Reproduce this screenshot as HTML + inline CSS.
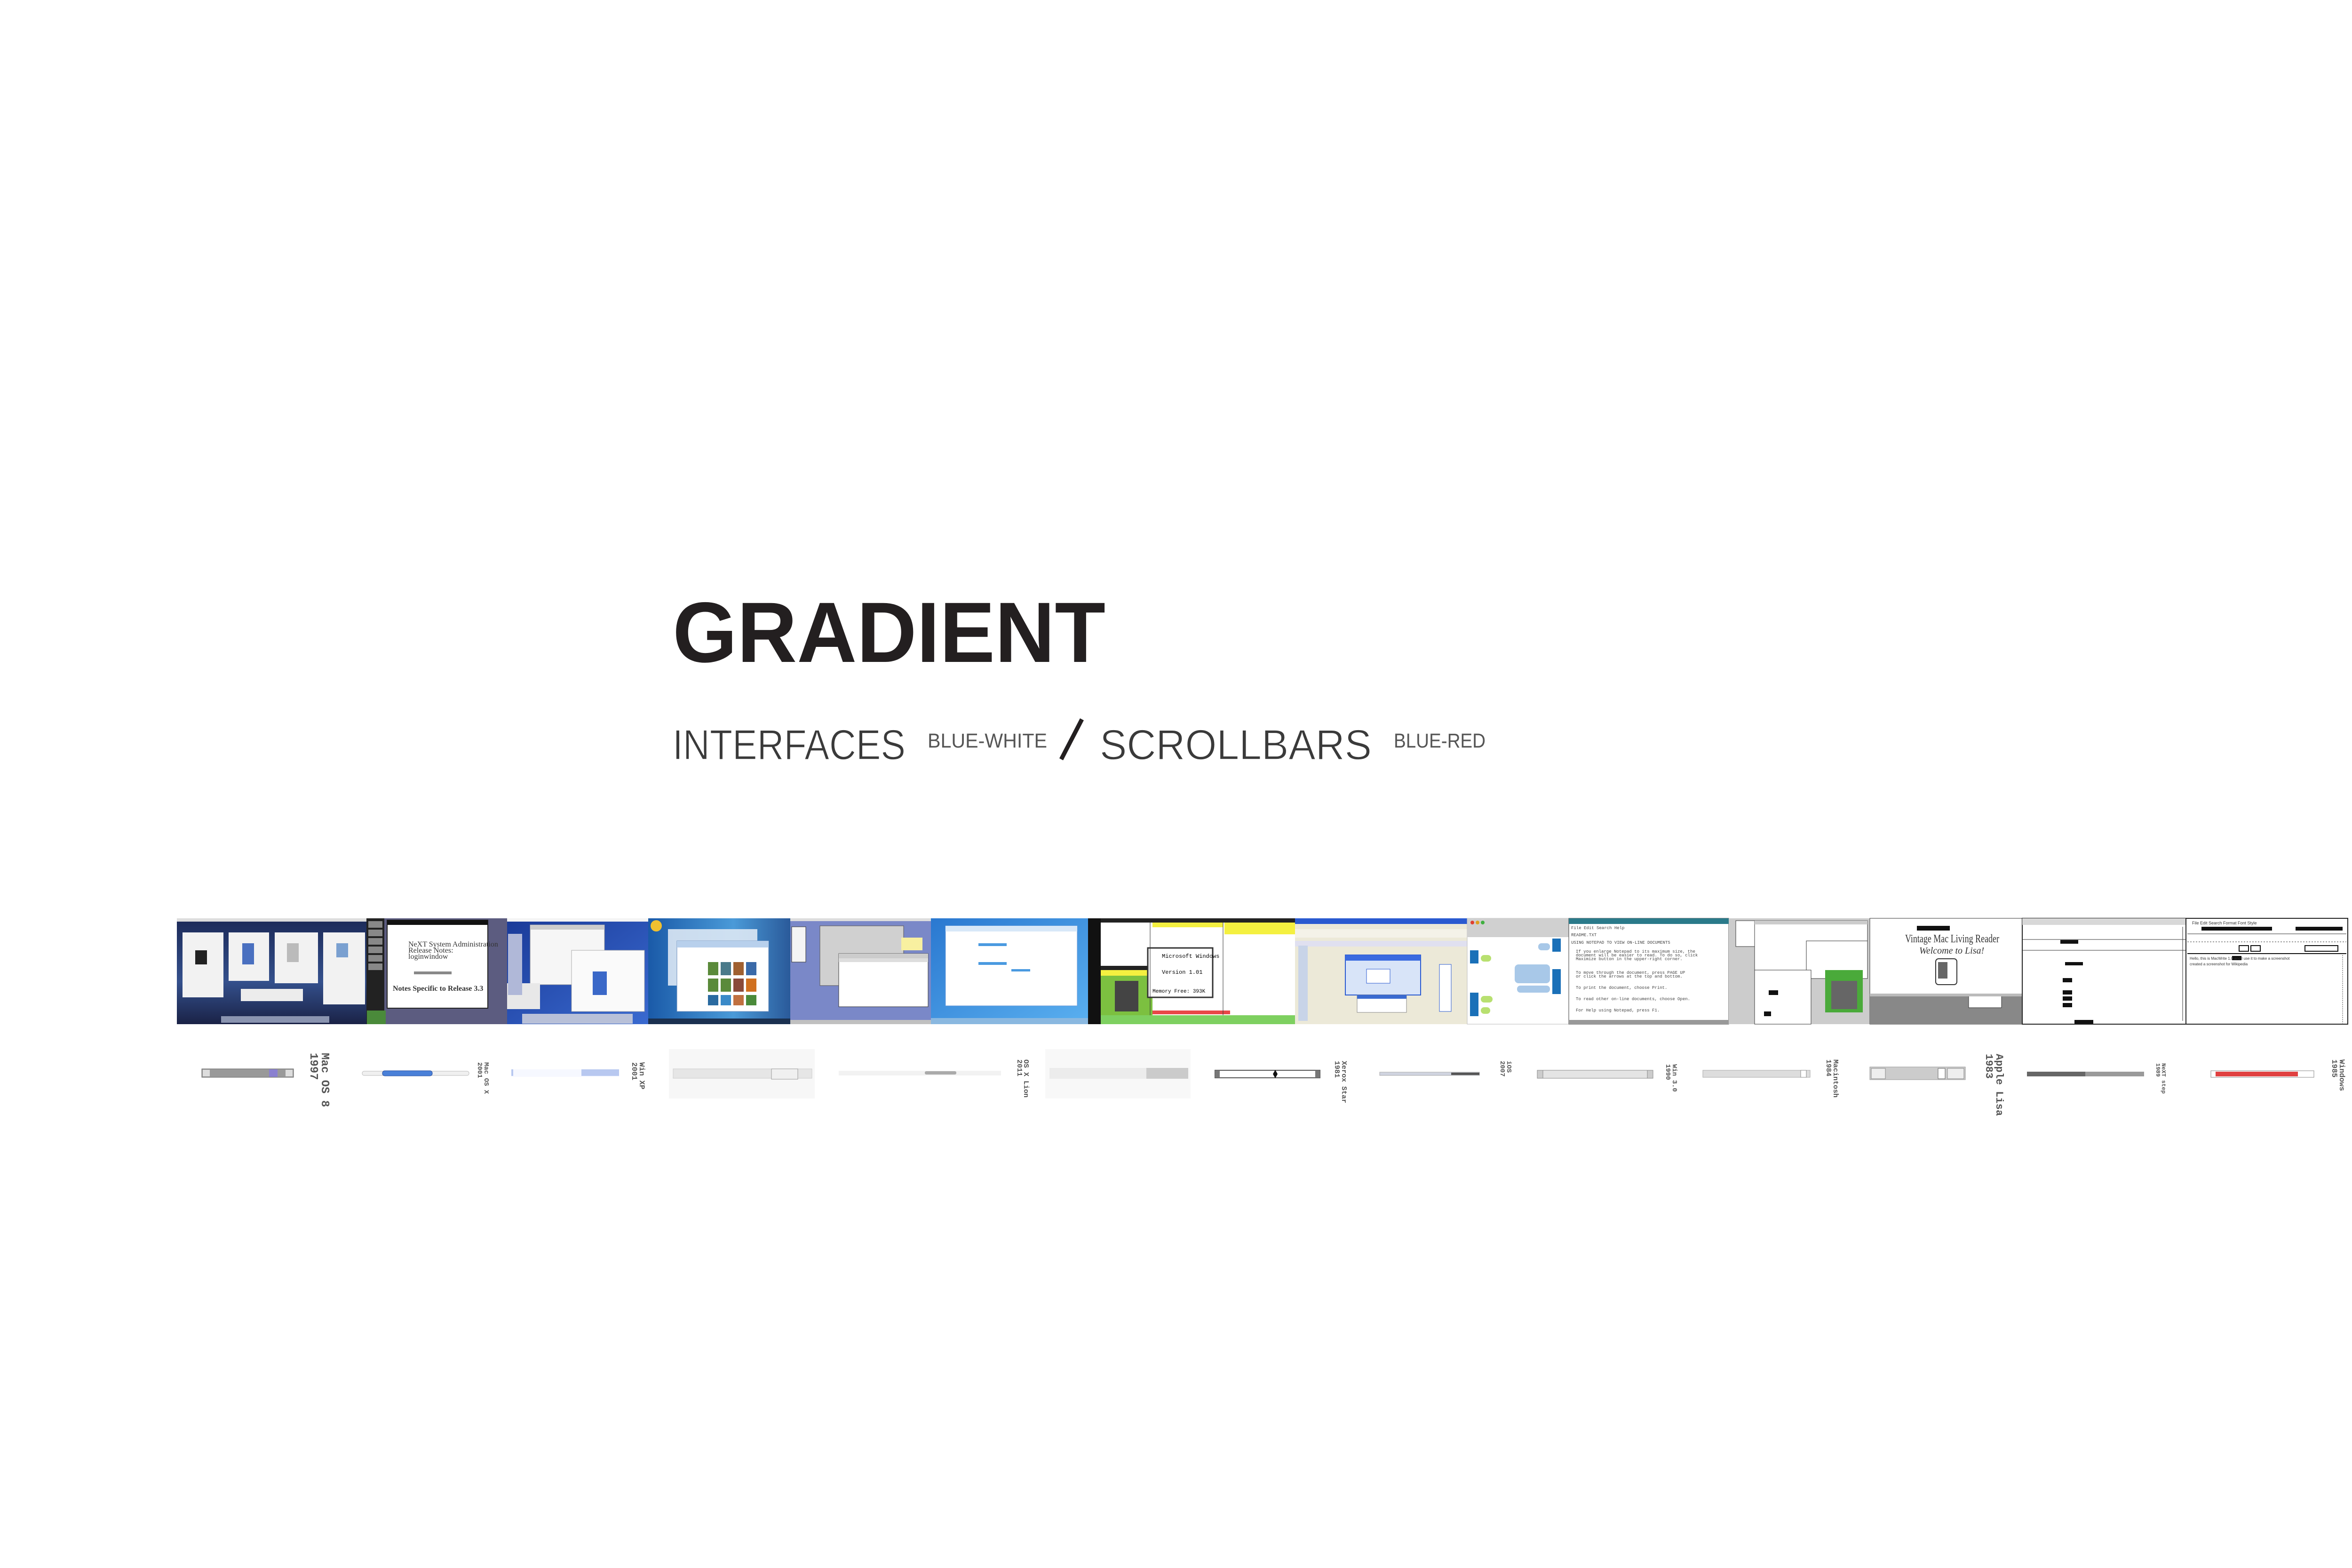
<!DOCTYPE html>
<html><head><meta charset="utf-8"><style>
html,body{margin:0;padding:0;background:#fff;}
svg{display:block;}
</style></head><body>
<svg width="5333" height="3333" viewBox="0 0 5333 3333" xmlns="http://www.w3.org/2000/svg" font-family="Liberation Sans, sans-serif">
<defs>
<linearGradient id="g1" x1="0" y1="0" x2="0" y2="1"><stop offset="0" stop-color="#1c2a58"/><stop offset="0.6" stop-color="#34508c"/><stop offset="1" stop-color="#1a2246"/></linearGradient>
<linearGradient id="g3" x1="0" y1="0" x2="1" y2="1"><stop offset="0" stop-color="#1a3a98"/><stop offset="1" stop-color="#3a6ad0"/></linearGradient>
<linearGradient id="g4" x1="0" y1="0" x2="1" y2="0"><stop offset="0" stop-color="#1a5aa8"/><stop offset="0.6" stop-color="#4a9ad8"/><stop offset="1" stop-color="#2a5a9a"/></linearGradient>
<linearGradient id="g6" x1="0" y1="0" x2="1" y2="1"><stop offset="0" stop-color="#2a78d0"/><stop offset="1" stop-color="#5ab0f0"/></linearGradient>
</defs>

<!-- Title -->
<text x="1430" y="1407" font-size="182" font-weight="bold" fill="#231f20" textLength="920" lengthAdjust="spacingAndGlyphs">GRADIENT</text>
<text x="1430" y="1614" font-size="90" fill="#3a3a3a" textLength="495" lengthAdjust="spacingAndGlyphs" font-weight="normal" stroke="#fff" stroke-width="1.5">INTERFACES</text>
<text x="1972" y="1589" font-size="43" fill="#555" textLength="254" lengthAdjust="spacingAndGlyphs">BLUE-WHITE</text>
<line x1="2300" y1="1529" x2="2256" y2="1614" stroke="#231f20" stroke-width="9"/>
<text x="2338" y="1614" font-size="90" fill="#3a3a3a" textLength="578" lengthAdjust="spacingAndGlyphs" stroke="#fff" stroke-width="1.5">SCROLLBARS</text>
<text x="2963" y="1589" font-size="43" fill="#555" textLength="195" lengthAdjust="spacingAndGlyphs">BLUE-RED</text>

<!-- Screenshot strip -->
<!-- 1 Mac OS X Lion -->
<rect x="376" y="1952" width="403" height="225" fill="url(#g1)"/>
<rect x="376" y="1952" width="403" height="7" fill="#ddd"/>
<rect x="388" y="1982" width="87" height="138" fill="#f2f2f2"/>
<rect x="486" y="1982" width="86" height="103" fill="#f2f2f2"/>
<rect x="584" y="1982" width="92" height="108" fill="#f2f2f2"/>
<rect x="687" y="1982" width="89" height="153" fill="#f2f2f2"/>
<rect x="512" y="2102" width="132" height="26" fill="#ececec"/>
<rect x="415" y="2020" width="25" height="30" fill="#222"/>
<rect x="515" y="2005" width="25" height="45" fill="#4a70c0"/>
<rect x="610" y="2005" width="25" height="40" fill="#bbb"/>
<rect x="715" y="2005" width="25" height="30" fill="#7aa0d0"/>
<rect x="470" y="2160" width="230" height="14" fill="#8a94b0"/>

<!-- 2 NeXT -->
<rect x="779" y="1952" width="299" height="225" fill="#5c5c80"/>
<rect x="779" y="1952" width="38" height="225" fill="#222"/>
<g fill="#888"><rect x="783" y="1958" width="30" height="14"/><rect x="783" y="1976" width="30" height="14"/><rect x="783" y="1994" width="30" height="14"/><rect x="783" y="2012" width="30" height="14"/><rect x="783" y="2030" width="30" height="14"/><rect x="783" y="2048" width="30" height="14"/></g>
<rect x="823" y="1956" width="214" height="187" fill="#fff" stroke="#222" stroke-width="2"/>
<rect x="823" y="1956" width="214" height="10" fill="#111"/>
<g fill="#333" font-size="16" font-family="Liberation Serif, serif"><text x="868" y="2012">NeXT System Administration</text><text x="868" y="2025">Release Notes:</text><text x="868" y="2038">loginwindow</text><text x="835" y="2106" font-weight="bold">Notes Specific to Release 3.3</text></g>
<rect x="880" y="2065" width="80" height="6" fill="#888"/>
<rect x="780" y="2148" width="40" height="29" fill="#4a8a3a"/>

<!-- 3 Mac OS X -->
<rect x="1078" y="1952" width="300" height="225" fill="url(#g3)"/>
<rect x="1078" y="1952" width="300" height="7" fill="#f4f4f4"/>
<rect x="1127" y="1966" width="158" height="127" fill="#f6f6f6" stroke="#999"/>
<rect x="1127" y="1966" width="158" height="10" fill="#ccc"/>
<rect x="1215" y="2020" width="155" height="130" fill="#fafafa" stroke="#aaa"/>
<rect x="1078" y="2090" width="70" height="55" fill="#e8e8e8"/>
<rect x="1080" y="1985" width="30" height="130" fill="#b0b8d8"/>
<rect x="1260" y="2065" width="30" height="50" fill="#3a68c8"/>
<rect x="1110" y="2155" width="235" height="21" fill="#b8c0d8"/>

<!-- 4 Windows 7 -->
<rect x="1378" y="1952" width="302" height="225" fill="url(#g4)"/>
<rect x="1420" y="1975" width="190" height="120" fill="#dde8f4" opacity="0.9"/>
<rect x="1439" y="2000" width="195" height="150" fill="#fff" stroke="#6a8ab8"/>
<rect x="1439" y="2000" width="195" height="14" fill="#b8d0ec"/>
<g fill="#5a8a3a"><rect x="1505" y="2045" width="22" height="28"/><rect x="1532" y="2045" width="22" height="28" fill="#4a7a8a"/><rect x="1559" y="2045" width="22" height="28" fill="#a06030"/><rect x="1586" y="2045" width="22" height="28" fill="#3a6aa8"/><rect x="1505" y="2080" width="22" height="28"/><rect x="1532" y="2080" width="22" height="28"/><rect x="1559" y="2080" width="22" height="28" fill="#8a4a3a"/><rect x="1586" y="2080" width="22" height="28" fill="#d07020"/><rect x="1505" y="2115" width="22" height="22" fill="#2a6aa0"/><rect x="1532" y="2115" width="22" height="22" fill="#3a8ac8"/><rect x="1559" y="2115" width="22" height="22" fill="#c07040"/><rect x="1586" y="2115" width="22" height="22" fill="#4a8a3a"/></g>
<rect x="1378" y="2165" width="302" height="12" fill="#1a3050"/>
<circle cx="1395" cy="1968" r="12" fill="#f0c030"/>

<!-- 5 Mac OS 8 -->
<rect x="1680" y="1952" width="299" height="225" fill="#7a88c8"/>
<rect x="1680" y="1952" width="299" height="6" fill="#ddd"/>
<rect x="1683" y="1970" width="30" height="75" fill="#f4f4f4" stroke="#333"/>
<rect x="1743" y="1968" width="178" height="127" fill="#d0d0d0" stroke="#555"/>
<rect x="1916" y="1993" width="45" height="27" fill="#f8f0a0"/>
<rect x="1783" y="2027" width="190" height="113" fill="#fff" stroke="#333"/>
<rect x="1783" y="2027" width="190" height="10" fill="#ccc"/>
<rect x="1783" y="2037" width="190" height="8" fill="#ddd"/>
<rect x="1680" y="2168" width="299" height="9" fill="#c0c0c0"/>

<!-- 6 Windows 8 -->
<rect x="1979" y="1952" width="334" height="225" fill="url(#g6)"/>
<rect x="2010" y="1968" width="280" height="170" fill="#fff" stroke="#6a9ad8"/>
<rect x="2010" y="1968" width="280" height="12" fill="#d8e8f8"/>
<rect x="2080" y="2005" width="60" height="6" fill="#4a9ae0"/>
<rect x="2080" y="2045" width="60" height="6" fill="#4a9ae0"/>
<rect x="2150" y="2060" width="40" height="5" fill="#4a9ae0"/>
<rect x="1979" y="2164" width="334" height="13" fill="#8ab8e0"/>
<rect x="2313" y="1952" width="27" height="225" fill="#111"/>

<!-- 7 Windows 1.0 -->
<rect x="2340" y="1952" width="413" height="225" fill="#fff"/>
<rect x="2340" y="1952" width="413" height="9" fill="#222"/>
<rect x="2450" y="1961" width="150" height="10" fill="#f4f040"/>
<rect x="2603" y="1961" width="150" height="25" fill="#f4f040"/>
<rect x="2340" y="2053" width="110" height="9" fill="#222"/>
<rect x="2340" y="2062" width="110" height="12" fill="#f4f040"/>
<rect x="2340" y="2074" width="110" height="84" fill="#7cc040"/>
<rect x="2370" y="2085" width="50" height="65" fill="#444"/>
<rect x="2440" y="2015" width="138" height="105" fill="#fff" stroke="#333" stroke-width="3"/>
<text x="2470" y="2036" font-size="12" font-family="Liberation Mono, monospace">Microsoft Windows</text>
<text x="2470" y="2070" font-size="12" font-family="Liberation Mono, monospace">Version 1.01</text>
<text x="2450" y="2110" font-size="11" font-family="Liberation Mono, monospace">Memory Free: 393K</text>
<rect x="2340" y="2158" width="413" height="19" fill="#7ed060"/>
<rect x="2450" y="2148" width="165" height="8" fill="#e84848"/>
<line x1="2445" y1="1961" x2="2445" y2="2158" stroke="#333"/>
<line x1="2600" y1="1961" x2="2600" y2="2158" stroke="#333"/>

<!-- 8 XP StyleBuilder -->
<rect x="2753" y="1952" width="366" height="225" fill="#ece9d8"/>
<rect x="2753" y="1952" width="366" height="12" fill="#2a5ad0"/>
<rect x="2753" y="1975" width="366" height="18" fill="#f4f2e8"/>
<rect x="2753" y="2000" width="366" height="12" fill="#e0e0f0"/>
<rect x="2860" y="2030" width="160" height="85" fill="#d8e4f8" stroke="#2a5ad0" stroke-width="2"/>
<rect x="2860" y="2030" width="160" height="12" fill="#3a6ae0"/>
<rect x="2905" y="2060" width="50" height="30" fill="#fff" stroke="#2a5ad0"/>
<rect x="2885" y="2115" width="105" height="37" fill="#fff" stroke="#888"/>
<rect x="2885" y="2115" width="105" height="8" fill="#3a6ad0"/>
<rect x="3060" y="2050" width="25" height="100" fill="#fff" stroke="#2a5ad0"/>
<rect x="2760" y="2010" width="20" height="160" fill="#c8d4e8"/>

<!-- 9 iChat -->
<rect x="3119" y="1952" width="216" height="225" fill="#fff" stroke="#bbb"/>
<rect x="3119" y="1952" width="216" height="40" fill="#d0d0d0"/>
<circle cx="3130" cy="1961" r="4" fill="#e04030"/><circle cx="3141" cy="1961" r="4" fill="#e0a020"/><circle cx="3152" cy="1961" r="4" fill="#40b040"/>
<rect x="3270" y="2005" width="25" height="15" rx="7" fill="#a8c8e8"/>
<rect x="3300" y="1995" width="18" height="28" fill="#1a70b8"/>
<rect x="3125" y="2020" width="18" height="28" fill="#1a70b8"/>
<rect x="3148" y="2030" width="22" height="14" rx="7" fill="#b8e070"/>
<rect x="3220" y="2050" width="75" height="40" rx="8" fill="#a8c8e8"/>
<rect x="3225" y="2095" width="70" height="15" rx="7" fill="#a8c8e8"/>
<rect x="3300" y="2060" width="18" height="28" fill="#1a70b8"/>
<rect x="3300" y="2085" width="18" height="28" fill="#1a70b8"/>
<rect x="3125" y="2110" width="18" height="25" fill="#1a70b8"/>
<rect x="3148" y="2117" width="25" height="14" rx="7" fill="#b8e070"/>
<rect x="3125" y="2135" width="18" height="25" fill="#1a70b8"/>
<rect x="3148" y="2141" width="20" height="14" rx="7" fill="#b8e070"/>

<!-- 10 Notepad -->
<rect x="3335" y="1952" width="340" height="225" fill="#fff" stroke="#333"/>
<rect x="3335" y="1952" width="340" height="12" fill="#2a7a8a"/>
<g fill="#444" font-size="9" font-family="Liberation Mono, monospace"><text x="3340" y="1975">File  Edit  Search  Help</text><text x="3340" y="1990">README.TXT</text><text x="3340" y="2006">USING NOTEPAD TO VIEW ON-LINE DOCUMENTS</text><text x="3350" y="2025">If you enlarge Notepad to its maximum size, the</text><text x="3350" y="2033">document will be easier to read. To do so, click</text><text x="3350" y="2041">Maximize button in the upper-right corner.</text><text x="3350" y="2070">To move through the document, press PAGE UP</text><text x="3350" y="2078">or click the arrows at the top and bottom.</text><text x="3350" y="2102">To print the document, choose Print.</text><text x="3350" y="2126">To read other on-line documents, choose Open.</text><text x="3350" y="2150">For Help using Notepad, press F1.</text></g>
<rect x="3335" y="2168" width="340" height="9" fill="#999"/>

<!-- 11 Windows 3.1 -->
<rect x="3675" y="1952" width="300" height="225" fill="#c0c0c0"/>
<rect x="3675" y="1952" width="300" height="225" fill="#fff" opacity="0.2"/>
<rect x="3690" y="1957" width="40" height="55" fill="#fff" stroke="#333"/>
<rect x="3730" y="1957" width="240" height="110" fill="#fff" stroke="#333"/>
<rect x="3730" y="1957" width="240" height="8" fill="#ccc"/>
<rect x="3840" y="2000" width="130" height="80" fill="#fff" stroke="#333"/>
<rect x="3730" y="2062" width="120" height="115" fill="#fff" stroke="#333"/>
<rect x="3880" y="2062" width="80" height="90" fill="#4aaa3a"/>
<rect x="3893" y="2085" width="55" height="60" fill="#666"/>
<rect x="3760" y="2105" width="20" height="10" fill="#111"/>
<rect x="3750" y="2150" width="15" height="10" fill="#111"/>

<!-- 12 Lisa -->
<rect x="3975" y="1952" width="324" height="225" fill="#fff" stroke="#333"/>
<rect x="3975" y="2117" width="324" height="60" fill="#888"/>
<rect x="4075" y="1968" width="70" height="10" fill="#111"/>
<text x="4050" y="2003" font-size="24" font-family="Liberation Serif, serif" fill="#333" textLength="200" lengthAdjust="spacingAndGlyphs">Vintage Mac Living Reader</text>
<text x="4080" y="2027" font-size="20" font-style="italic" font-family="Liberation Serif, serif" fill="#333">Welcome to Lisa!</text>
<rect x="4115" y="2038" width="45" height="55" rx="6" fill="#fff" stroke="#333" stroke-width="2"/>
<rect x="4120" y="2045" width="20" height="35" fill="#666"/>
<rect x="4185" y="2117" width="70" height="25" fill="#fff" stroke="#333"/>
<rect x="3975" y="2112" width="324" height="6" fill="#bbb"/>

<!-- 13 NeXT text property -->
<rect x="4299" y="1952" width="348" height="225" fill="#fff" stroke="#222" stroke-width="2"/>
<rect x="4299" y="1952" width="348" height="14" fill="#d8d8d8"/>
<line x1="4299" y1="1997" x2="4647" y2="1997" stroke="#333"/>
<line x1="4299" y1="2020" x2="4647" y2="2020" stroke="#333"/>
<rect x="4380" y="1998" width="38" height="8" fill="#111"/>
<rect x="4390" y="2045" width="38" height="7" fill="#111"/>
<rect x="4385" y="2079" width="20" height="9" fill="#111"/>
<rect x="4385" y="2105" width="20" height="9" fill="#111"/>
<rect x="4385" y="2118" width="20" height="9" fill="#111"/>
<rect x="4385" y="2132" width="20" height="9" fill="#111"/>
<rect x="4410" y="2168" width="40" height="8" fill="#111"/>
<line x1="4640" y1="1970" x2="4640" y2="2170" stroke="#333"/>

<!-- 14 MacWrite -->
<rect x="4647" y="1952" width="344" height="225" fill="#fff" stroke="#222" stroke-width="2"/>
<g fill="#333" font-size="9"><text x="4660" y="1965">File  Edit  Search  Format  Font  Style</text></g>
<rect x="4680" y="1970" width="150" height="8" fill="#111"/>
<rect x="4880" y="1970" width="100" height="8" fill="#111"/>
<line x1="4650" y1="1985" x2="4988" y2="1985" stroke="#333"/>
<line x1="4650" y1="2002" x2="4988" y2="2002" stroke="#333" stroke-dasharray="3 3"/>
<rect x="4760" y="2010" width="20" height="12" fill="#fff" stroke="#111" stroke-width="2"/>
<rect x="4785" y="2010" width="20" height="12" fill="#fff" stroke="#111" stroke-width="2"/>
<rect x="4900" y="2010" width="70" height="12" fill="#fff" stroke="#111" stroke-width="2"/>
<line x1="4650" y1="2027" x2="4988" y2="2027" stroke="#111" stroke-width="2"/>
<rect x="4745" y="2032" width="20" height="9" fill="#111"/>
<text x="4655" y="2040" font-size="8" fill="#333">Hello, this is MacWrite 1.0 and I use it to make a screenshot</text>
<text x="4655" y="2052" font-size="8" fill="#333">created a screenshot for Wikipedia</text>
<line x1="4980" y1="2030" x2="4980" y2="2175" stroke="#333" stroke-dasharray="2 2"/>

<!-- Scrollbars -->
<!-- Mac OS 8 -->
<rect x="429" y="2272" width="195" height="18" fill="#999" stroke="#666"/>
<rect x="431" y="2274" width="15" height="14" fill="#ddd"/><rect x="607" y="2274" width="15" height="14" fill="#ddd"/>
<rect x="572" y="2273" width="18" height="16" fill="#8a80d0"/>
<!-- Mac OS X -->
<rect x="770" y="2277" width="227" height="9" rx="4" fill="#f0f0f0" stroke="#bbb"/>
<rect x="813" y="2276" width="106" height="11" rx="5" fill="#4a80d8" stroke="#2a50a0"/>
<!-- Win XP -->
<rect x="1087" y="2273" width="229" height="16" fill="#f6f8ff"/>
<rect x="1236" y="2273" width="80" height="14" fill="#b8c8f0"/>
<rect x="1087" y="2273" width="4" height="14" fill="#b8c8f0"/>
<!-- OS X Lion box -->
<rect x="1422" y="2230" width="310" height="105" fill="#f7f7f7"/>
<rect x="1431" y="2272" width="295" height="20" fill="#e6e6e6" stroke="#ccc"/>
<rect x="1640" y="2272" width="56" height="22" fill="#f0f0f0" stroke="#999"/>
<!-- Lion bar 2 -->
<rect x="1783" y="2276" width="345" height="10" fill="#f2f2f2"/>
<rect x="1966" y="2277" width="67" height="7" rx="3" fill="#aaa"/>
<!-- big one -->
<rect x="2222" y="2230" width="309" height="105" fill="#f8f8f8"/>
<rect x="2231" y="2270" width="206" height="23" fill="#ececec"/>
<rect x="2437" y="2270" width="89" height="23" fill="#cbcbcb"/>
<!-- Xerox Star -->
<rect x="2583" y="2275" width="223" height="16" fill="#fff" stroke="#555" stroke-width="2"/>
<rect x="2583" y="2275" width="10" height="16" fill="#777"/><rect x="2796" y="2275" width="10" height="16" fill="#777"/>
<polygon points="2711,2274 2716,2283 2711,2292 2706,2283" fill="#111"/>
<!-- iOS -->
<rect x="2933" y="2279" width="212" height="7" fill="#d0d4e0" stroke="#aaa"/>
<rect x="3085" y="2280" width="60" height="5" fill="#555"/>
<!-- Win 3.0 -->
<rect x="3268" y="2275" width="246" height="17" fill="#e4e4e4" stroke="#888"/>
<rect x="3268" y="2275" width="12" height="17" fill="#ccc" stroke="#888"/><rect x="3502" y="2275" width="12" height="17" fill="#ccc" stroke="#888"/>
<!-- Macintosh -->
<rect x="3620" y="2275" width="228" height="15" fill="#ddd" stroke="#aaa"/>
<rect x="3828" y="2275" width="12" height="15" fill="#fff" stroke="#888"/>
<!-- Lisa -->
<rect x="3975" y="2268" width="203" height="27" fill="#ccc" stroke="#999"/>
<rect x="3978" y="2271" width="30" height="22" fill="#eee" stroke="#888"/>
<rect x="4140" y="2271" width="35" height="22" fill="#eee" stroke="#888"/>
<rect x="4120" y="2271" width="15" height="22" fill="#fff" stroke="#666"/>
<!-- NeXTstep -->
<rect x="4309" y="2278" width="249" height="10" fill="#9a9a9a"/>
<rect x="4309" y="2278" width="124" height="10" fill="#666"/>
<!-- Windows 1985 -->
<rect x="4700" y="2276" width="219" height="14" fill="#fff" stroke="#888"/>
<rect x="4710" y="2278" width="175" height="10" fill="#e04040"/>

<!-- Rotated labels -->
<g fill="#555" font-weight="bold" font-family="Liberation Mono, monospace">
<g transform="translate(684,2238) rotate(90)"><text font-size="24">Mac OS 8</text><text y="24" font-size="24">1997</text></g>
<g transform="translate(1030,2258) rotate(90)"><text font-size="14">Mac OS X</text><text y="14" font-size="14">2001</text></g>
<g transform="translate(1360,2258) rotate(90)"><text font-size="16">Win XP</text><text y="16" font-size="16">2001</text></g>
<g transform="translate(2177,2252) rotate(90)"><text font-size="15">OS X Lion</text><text y="14" font-size="15">2011</text></g>
<g transform="translate(2853,2255) rotate(90)"><text font-size="15">Xerox Star</text><text y="15" font-size="15">1981</text></g>
<g transform="translate(3204,2255) rotate(90)"><text font-size="14">iOS</text><text y="14" font-size="14">2007</text></g>
<g transform="translate(3556,2262) rotate(90)"><text font-size="14">Win 3.0</text><text y="14" font-size="14">1990</text></g>
<g transform="translate(3898,2252) rotate(90)"><text font-size="15">Macintosh</text><text y="15" font-size="15">1984</text></g>
<g transform="translate(4244,2240) rotate(90)"><text font-size="22">Apple Lisa</text><text y="22" font-size="22">1983</text></g>
<g transform="translate(4596,2260) rotate(90)"><text font-size="12">NeXT step</text><text y="12" font-size="12">1989</text></g>
<g transform="translate(4974,2252) rotate(90)"><text font-size="16">Windows</text><text y="16" font-size="16">1985</text></g>
</g>
</svg>
</body></html>
